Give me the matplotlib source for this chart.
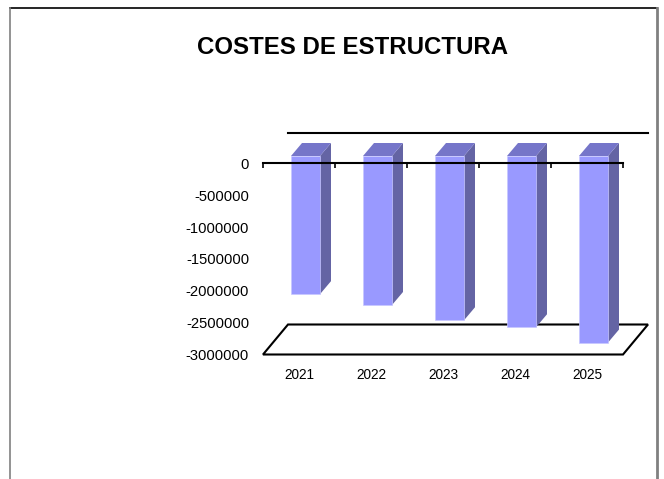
import numpy as np
import matplotlib.pyplot as plt
from matplotlib.patches import Polygon
from matplotlib.lines import Line2D

plt.rcParams['font.family'] = ['Liberation Sans', 'DejaVu Sans']

anios = ['2021', '2022', '2023', '2024', '2025']
costes = [-2170000, -2340000, -2580000, -2690000, -2930000]
yticks = [0, -500000, -1000000, -1500000, -2000000, -2500000, -3000000]

W, H = 664, 479
fig = plt.figure(figsize=(W/100, H/100), dpi=100)
ax = fig.add_axes([263/W, 1 - 354.5/H, 360/W, 191/H])
ax.set_xlim(-0.5, 4.5)
ax.set_ylim(-3000000, 0)
for s in ax.spines.values():
    s.set_visible(False)

x = np.arange(len(anios))
py = 3000000 / 191  # datos por pixel en y
px = 1 / 72.0       # datos por pixel en x

# profundidad del suelo / pared
fdx, fdy = 25 * px, 30 * py
# desplazamiento y profundidad de la barra
ox, oy = 6.5 * px, 7.5 * py
bdx, bdy = 11 * px, 13 * py
w = 29 * px

c_front = '#9999ff'
c_top = '#7575c9'
c_side = '#6464a4'

# pared de fondo (solo borde superior)
ax.plot([-0.5 + fdx, 4.5 + fdx], [fdy, fdy], color='black', lw=1.5, clip_on=False, zorder=1)

# suelo
suelo = Polygon([(-0.5, -3000000), (4.5, -3000000), (4.5 + fdx, -3000000 + fdy),
                 (-0.5 + fdx, -3000000 + fdy)], closed=True, facecolor='white',
                edgecolor='black', lw=1.5, clip_on=False, zorder=1)
ax.add_patch(suelo)

# barras 3D
for xi, v in zip(x, costes):
    x0 = xi + ox - w/2
    x1 = xi + ox + w/2
    ytop = oy
    ybot = oy + v
    ax.add_patch(Polygon([(x1, ytop), (x1 + bdx, ytop + bdy), (x1 + bdx, ybot + bdy), (x1, ybot)],
                         closed=True, facecolor=c_side, edgecolor='none', clip_on=False, zorder=2))
    ax.add_patch(Polygon([(x0, ytop), (x1, ytop), (x1 + bdx, ytop + bdy), (x0 + bdx, ytop + bdy)],
                         closed=True, facecolor=c_top, edgecolor='none', clip_on=False, zorder=2))
ax.bar(x + ox, costes, bottom=oy, width=w, color=c_front, edgecolor='#c8c8ff', lw=0.5,
       zorder=3, clip_on=False)

# eje cero con marcas
ax.plot([-0.5, 4.5], [0, 0], color='black', lw=1.5, clip_on=False, zorder=5)
ax.vlines(np.arange(-0.5, 5, 1), 0, -5 * py, color='black', lw=1.2, clip_on=False, zorder=5)

ax.set_yticks(yticks)
ax.set_yticklabels([str(t) for t in yticks], fontsize=10.6)
ax.set_xticks(x)
ax.set_xticklabels(anios, fontsize=9.8)
ax.tick_params(axis='y', length=0, pad=10)
ax.tick_params(axis='x', length=0, pad=10)

fig.text(353/W, 1 - 47.5/H, 'COSTES DE ESTRUCTURA', ha='center', va='center',
         fontsize=17.3, fontweight='bold')

# marco
fig.add_artist(Line2D([10/W, 657/W], [1 - 8/H, 1 - 8/H], color='black', lw=1.2))
fig.add_artist(Line2D([10/W, 10/W], [1 - 8/H, 0], color='#808080', lw=1.2))
fig.add_artist(Line2D([656.5/W, 656.5/W], [1 - 8/H, 0], color='#808080', lw=2))

fig.savefig('out.png', dpi=100)
